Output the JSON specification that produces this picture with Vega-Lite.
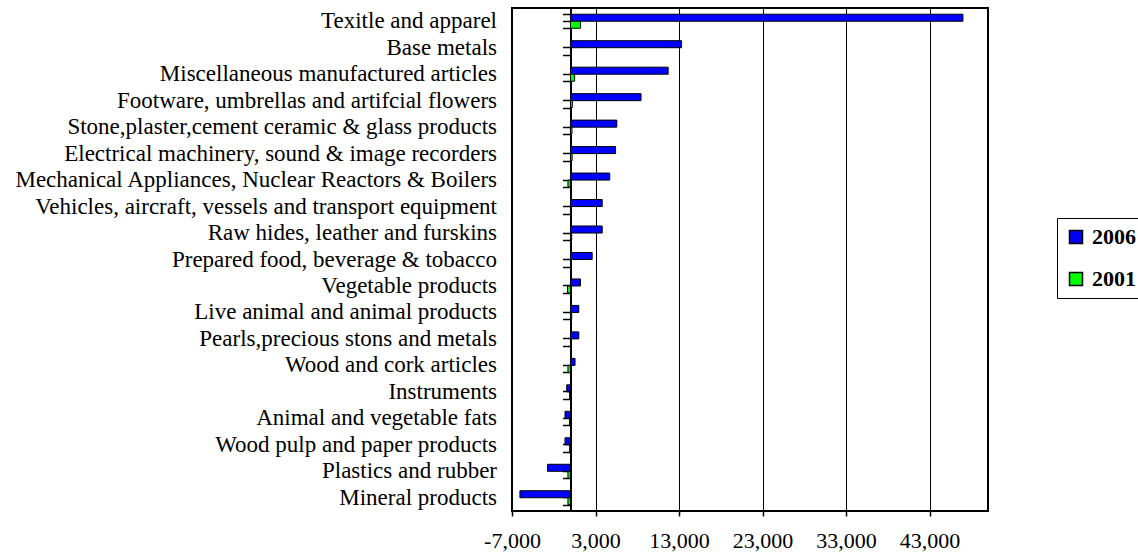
{
  "$schema": "https://vega.github.io/schema/vega-lite/v6.json",
  "autosize": {"type": "none"},
  "width": 476,
  "height": 503,
  "padding": {"left": 512, "top": 8, "right": 150, "bottom": 43},
  "background": "white",
  "config": {
    "font": "Liberation Serif",
    "view": {"stroke": "black", "strokeWidth": 2},
    "axis": {"labelColor": "black", "labelFontSize": 22, "labelFont": "Liberation Serif", "tickColor": "black", "domainColor": "black", "title": null}
  },
  "data": {
    "values": [
      {"category": "Texitle and apparel", "year": "2006", "value": 47000},
      {"category": "Texitle and apparel", "year": "2001", "value": 1200},
      {"category": "Base metals", "year": "2006", "value": 13300},
      {"category": "Base metals", "year": "2001", "value": 60},
      {"category": "Miscellaneous manufactured articles", "year": "2006", "value": 11700},
      {"category": "Miscellaneous manufactured articles", "year": "2001", "value": 500},
      {"category": "Footware, umbrellas and artifcial flowers", "year": "2006", "value": 8450},
      {"category": "Footware, umbrellas and artifcial flowers", "year": "2001", "value": 220},
      {"category": "Stone,plaster,cement ceramic & glass products", "year": "2006", "value": 5550},
      {"category": "Stone,plaster,cement ceramic & glass products", "year": "2001", "value": 180},
      {"category": "Electrical machinery, sound & image recorders", "year": "2006", "value": 5400},
      {"category": "Electrical machinery, sound & image recorders", "year": "2001", "value": 200},
      {"category": "Mechanical Appliances, Nuclear Reactors & Boilers", "year": "2006", "value": 4700},
      {"category": "Mechanical Appliances, Nuclear Reactors & Boilers", "year": "2001", "value": -300},
      {"category": "Vehicles, aircraft, vessels and transport equipment", "year": "2006", "value": 3800},
      {"category": "Vehicles, aircraft, vessels and transport equipment", "year": "2001", "value": 50},
      {"category": "Raw hides, leather and furskins", "year": "2006", "value": 3800},
      {"category": "Raw hides, leather and furskins", "year": "2001", "value": 150},
      {"category": "Prepared food, beverage & tobacco", "year": "2006", "value": 2600},
      {"category": "Prepared food, beverage & tobacco", "year": "2001", "value": 80},
      {"category": "Vegetable products", "year": "2006", "value": 1200},
      {"category": "Vegetable products", "year": "2001", "value": -350},
      {"category": "Live animal and animal products", "year": "2006", "value": 1000},
      {"category": "Live animal and animal products", "year": "2001", "value": 150},
      {"category": "Pearls,precious stons and metals", "year": "2006", "value": 1000},
      {"category": "Pearls,precious stons and metals", "year": "2001", "value": 50},
      {"category": "Wood and cork articles", "year": "2006", "value": 550},
      {"category": "Wood and cork articles", "year": "2001", "value": -300},
      {"category": "Instruments\u00a0\u00a0", "year": "2006", "value": -450},
      {"category": "Instruments\u00a0\u00a0", "year": "2001", "value": -100},
      {"category": "Animal and vegetable fats", "year": "2006", "value": -650},
      {"category": "Animal and vegetable fats", "year": "2001", "value": -100},
      {"category": "Wood pulp and paper products", "year": "2006", "value": -650},
      {"category": "Wood pulp and paper products", "year": "2001", "value": -100},
      {"category": "Plastics and rubber", "year": "2006", "value": -2750},
      {"category": "Plastics and rubber", "year": "2001", "value": -300},
      {"category": "Mineral products", "year": "2006", "value": -6050},
      {"category": "Mineral products", "year": "2001", "value": -300}
    ]
  },
  "resolve": {"axis": {"y": "independent"}},
  "layer": [
    {
      "mark": {"type": "bar", "stroke": "black", "strokeWidth": 1},
      "encoding": {
        "y": {
          "field": "category", "type": "nominal", "sort": null,
          "scale": {"paddingInner": 0.47, "paddingOuter": 0.235},
          "axis": {"orient": "left", "offset": -58.5, "tickBand": "center", "ticks": true, "tickSize": 8, "tickWidth": 1.5, "domain": true, "domainWidth": 2, "labelPadding": 66, "labelLimit": 0, "labelBaseline": "middle", "labelFontSize": 23}
        },
        "yOffset": {"field": "year", "type": "nominal", "sort": ["2006", "2001"], "scale": {"paddingInner": 0, "paddingOuter": 0}},
        "x": {
          "field": "value", "type": "quantitative",
          "scale": {"domain": [-7000, 50000], "nice": false, "zero": false},
          "axis": {"values": [-7000, 3000, 13000, 23000, 33000, 43000], "format": ",d", "labelExpr": "replace(datum.label, '\u2212', '-')", "grid": true, "gridColor": "black", "gridWidth": 1, "gridOpacity": 1, "domain": false, "ticks": true, "tickSize": 5, "tickWidth": 1.5, "labelPadding": 14, "labelFlush": false}
        },
        "color": {
          "field": "year", "type": "nominal",
          "scale": {"domain": ["2006", "2001"], "range": ["#0000FF", "#00FF00"]},
          "legend": {
            "orient": "none", "legendX": 545, "legendY": 210, "title": null,
            "strokeColor": "black", "padding": 8, "symbolType": "square", "symbolSize": 169,
            "symbolStrokeColor": "black", "symbolStrokeWidth": 1.5, "labelFont": "Liberation Serif",
            "labelFontSize": 22, "labelFontWeight": "bold", "labelColor": "black", "rowPadding": 20, "labelOffset": 5
          }
        }
      }
    },
    {
      "mark": {"type": "rule", "strokeOpacity": 0},
      "encoding": {
        "y": {
          "field": "category", "type": "nominal", "sort": null,
          "axis": {"orient": "left", "offset": -58.5, "tickBand": "extent", "ticks": true, "tickSize": 8, "tickWidth": 1.5, "domain": false, "labels": false}
        }
      }
    }
  ]
}
